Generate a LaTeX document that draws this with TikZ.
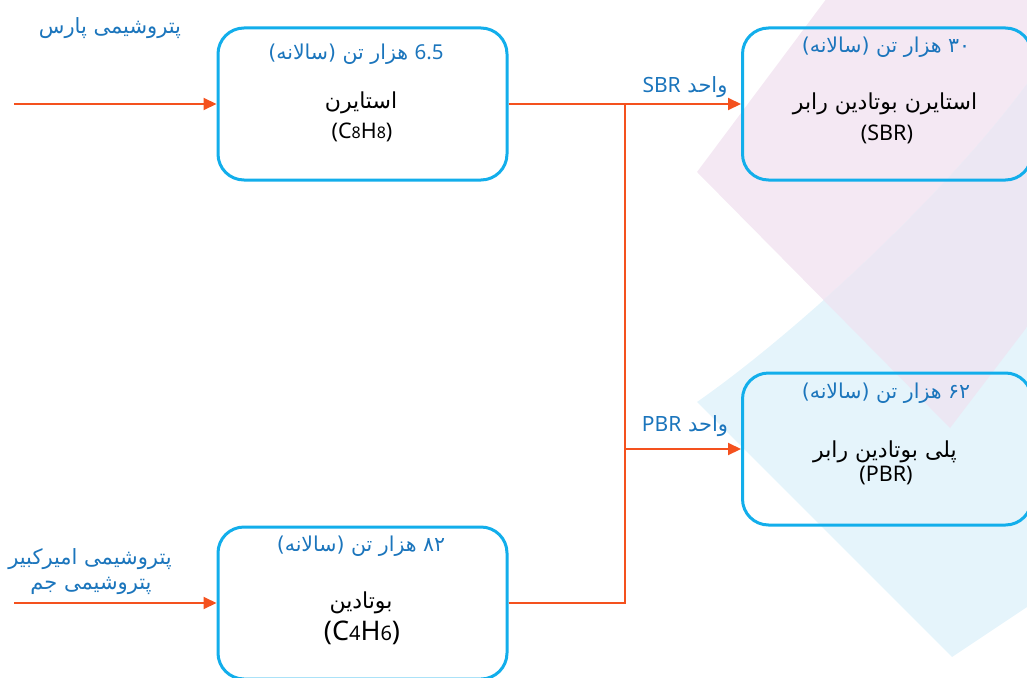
\documentclass[tikz,border=0pt]{standalone}
\usepackage{fontspec}
\setmainfont{Noto Sans}
\newfontfamily\fa[Script=Arabic]{DejaVu Sans}
\newfontfamily\lat{Noto Sans}
\TeXXeTstate=1
\usetikzlibrary{arrows.meta}
\definecolor{boxc}{HTML}{12AEEB}
\definecolor{arr}{HTML}{F4511E}
\definecolor{lbl}{HTML}{1B75BC}
\definecolor{pinkbg}{HTML}{F4E8F3}
\definecolor{bluebg}{HTML}{E5F4FB}
\definecolor{ovbg}{HTML}{ECE7F3}
\newcommand{\RL}[1]{\beginR#1\endR}
\newcommand{\LT}[1]{{\lat\beginL#1\endL}}
\begin{document}
\begin{tikzpicture}[x=1pt,y=-1pt,
  pbox/.style={draw=boxc, line width=3pt, rounded corners=26pt, minimum width=289pt, minimum height=152pt, inner sep=0pt},
  hdr/.style={text=lbl, font=\fa\fontsize{20.5}{24}\selectfont, inner sep=0pt},
  body/.style={text=black, font=\fa\fontsize{22}{25}\selectfont, inner sep=0pt},
  form/.style={text=black, font=\lat\fontsize{21.5}{24}\selectfont, inner sep=0pt},
  lab/.style={text=lbl, font=\fa\fontsize{21}{24}\selectfont, inner sep=0pt, align=center},
  conn/.style={draw=arr, line width=2pt},
  flow/.style={conn, -{Triangle[length=13pt,width=12pt]}}]
\useasboundingbox (0,0) rectangle (1027,677);
\begin{scope}
\clip (0,0) rectangle (1027,677);
% background shapes
\fill[pinkbg] (827,-2) -- (697,172) -- (950,428) -- (1030,323) -- (1030,-2) -- cycle;
\path[save path=\bluepath] (697,402) .. controls (800,330) and (950,190) .. (1030,80) -- (1030,605) -- (952,657) -- cycle;
\fill[bluebg, use path=\bluepath];
\begin{scope}
\clip (827,-2) -- (697,172) -- (950,428) -- (1030,323) -- (1030,-2) -- cycle;
\fill[ovbg, use path=\bluepath];
\end{scope}
% boxes
\node[pbox] (sty) at (362.5,104) {};
\node[pbox] (sbr) at (887,104) {};
\node[pbox] (pbr) at (887,449) {};
\node[pbox] (but) at (362.5,603) {};
\end{scope}
% texts
\node[lab] (src1) at (110,28) {\RL{پتروشیمی پارس}};
\node[lab] (src2) at (90,559) {\RL{پتروشیمی امیرکبیر}};
\node[lab] (src3) at (91,586) {\RL{پتروشیمی جم}};
\node[hdr] (h1) at (356,54) {\RL{\LT{6.5} هزار تن (سالانه)}};
\node[hdr] (h2) at (886,47) {\RL{۳۰ هزار تن (سالانه)}};
\node[hdr] (h3) at (886,393) {\RL{۶۲ هزار تن (سالانه)}};
\node[hdr] (h4) at (361,546) {\RL{۸۲ هزار تن (سالانه)}};
\node[body] (t1) at (361,103) {\RL{استایرن}};
\node[form] (f1) at (362,132) {(C{\fontsize{16}{16}\selectfont 8}H{\fontsize{16}{16}\selectfont 8})};
\node[body] (t2) at (885,104) {\RL{استایرن بوتادین رابر}};
\node[form] (f2) at (887,134) {(SBR)};
\node[body] (t3) at (885,452) {\RL{پلی بوتادین رابر}};
\node[form] (f3) at (886,476) {(PBR)};
\node[body] (t4) at (361,603) {\RL{بوتادین}};
\node[form, font=\lat\fontsize{27}{30}\selectfont] (f4) at (362,633) {(C{\fontsize{20}{20}\selectfont 4}H{\fontsize{20}{20}\selectfont 6})};
\node[lab] (u1) at (685,87) {\RL{واحد \LT{SBR}}};
\node[lab] (u2) at (685,426) {\RL{واحد \LT{PBR}}};
% connectors
\coordinate (in1) at (14,104);
\coordinate (in2) at (14,603);
\coordinate (j1) at (625,104);
\coordinate (j2) at (625,449);
\coordinate (j3) at (625,603);
\draw[flow] (in1) -- (sty.west);
\draw[flow] (in2) -- (but.west);
\draw[conn] (sty.east) -- (j1);
\draw[flow] (j1) -- (sbr.west);
\draw[conn] (but.east) -- (j3) -- (j1);
\draw[flow] (j2) -- (pbr.west);
\end{tikzpicture}
\end{document}
